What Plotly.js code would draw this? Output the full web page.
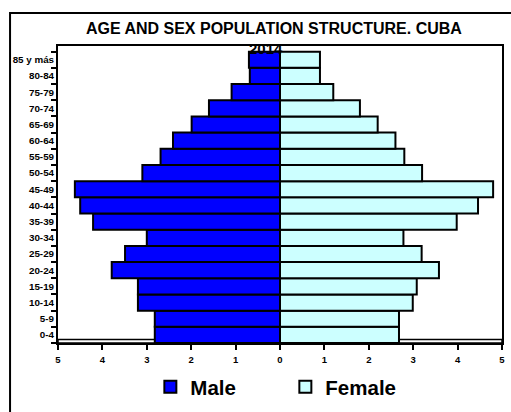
<!DOCTYPE html>
<html>
<head>
<meta charset="utf-8">
<script src="https://cdn.plot.ly/plotly-3.0.1.min.js"></script>
<style>html,body{margin:0;padding:0;background:#fff;}#chart{width:511px;height:412px;}</style>
</head>
<body>
<div id="chart"></div>
<script>
var ageGroups = ['0-4','5-9','10-14','15-19','20-24','25-29','30-34','35-39','40-44','45-49','50-54','55-59','60-64','65-69','70-74','75-79','80-84','85 y más'];
var maleValues = [2.82,2.82,3.2,3.2,3.79,3.49,3.0,4.21,4.5,4.62,3.1,2.69,2.41,1.99,1.6,1.09,0.68,0.7];
var femaleValues = [2.68,2.68,2.99,3.08,3.58,3.19,2.78,3.98,4.46,4.8,3.2,2.8,2.6,2.2,1.8,1.2,0.9,0.9];
var xTickVals = [-5,-4,-3,-2,-1,0,1,2,3,4,5];
var xTickText = ['5','4','3','2','1','0','1','2','3','4','5'];
var titleText = 'AGE AND SEX POPULATION STRUCTURE. CUBA';
var yearText = '2014';

var traces = [
  {type:'bar', orientation:'h', name:'Male', y:ageGroups, x:maleValues.map(function(v){return -v;}),
   marker:{color:'#0000FF', line:{color:'#000', width:2}}, hoverinfo:'skip'},
  {type:'bar', orientation:'h', name:'Female', y:ageGroups, x:femaleValues,
   marker:{color:'#CCFFFF', line:{color:'#000', width:2}}, hoverinfo:'skip'}
];

var layout = {
  width:511, height:412,
  margin:{l:58, r:9, t:46, b:69, pad:0, autoexpand:false},
  paper_bgcolor:'#fff', plot_bgcolor:'#fff',
  barmode:'overlay', bargap:0,
  font:{family:'Arial, Liberation Sans, sans-serif', color:'#000'},
  title:{text:titleText, font:{size:16, family:'Arial, Liberation Sans, sans-serif', weight:'bold'},
         x:0.536, xref:'container', xanchor:'center', y:0.931, yref:'container', yanchor:'middle'},
  xaxis:{range:[-5,5], tickvals:xTickVals, ticktext:xTickText, showgrid:false, zeroline:false,
         showline:true, linecolor:'#000', linewidth:2, mirror:true,
         ticks:'outside', ticklen:5, tickwidth:2, tickcolor:'#000', ticklabelstandoff:2,
         tickfont:{size:9.5, weight:'bold'}, fixedrange:true},
  yaxis:{type:'category', categoryorder:'array', categoryarray:ageGroups, range:[-0.5,17.85],
         showgrid:false, zeroline:false, showline:true, linecolor:'#000', linewidth:2, mirror:true,
         ticks:'outside', ticklen:5, tickwidth:2, tickcolor:'#000', tickson:'boundaries',
         tickfont:{size:9.8, weight:'bold'}, fixedrange:true},
  showlegend:true,
  legend:{orientation:'h', x:0.208, xanchor:'left', y:-0.148, yanchor:'middle',
          font:{size:20.5, weight:'bold'}, entrywidth:90, entrywidthmode:'pixels', bgcolor:'rgba(0,0,0,0)'},
  annotations:[{text:yearText, xref:'paper', yref:'paper', x:0.468, y:0.99, showarrow:false,
                font:{size:15, weight:'bold'}, xanchor:'center', yanchor:'middle'}],
  shapes:[
    {type:'rect', xref:'paper', yref:'paper', x0:-0.108, x1:1.05, y0:-0.3, y1:1.111,
     line:{color:'#000', width:2}, fillcolor:'rgba(0,0,0,0)', layer:'below'},
    {type:'rect', xref:'paper', yref:'paper', x0:0, x1:1, y0:0, y1:0.012,
     line:{color:'#000', width:1.5}, fillcolor:'#fff', layer:'below'}
  ]
};

Plotly.newPlot('chart', traces, layout, {displayModeBar:false, staticPlot:true});
</script>
</body>
</html>
